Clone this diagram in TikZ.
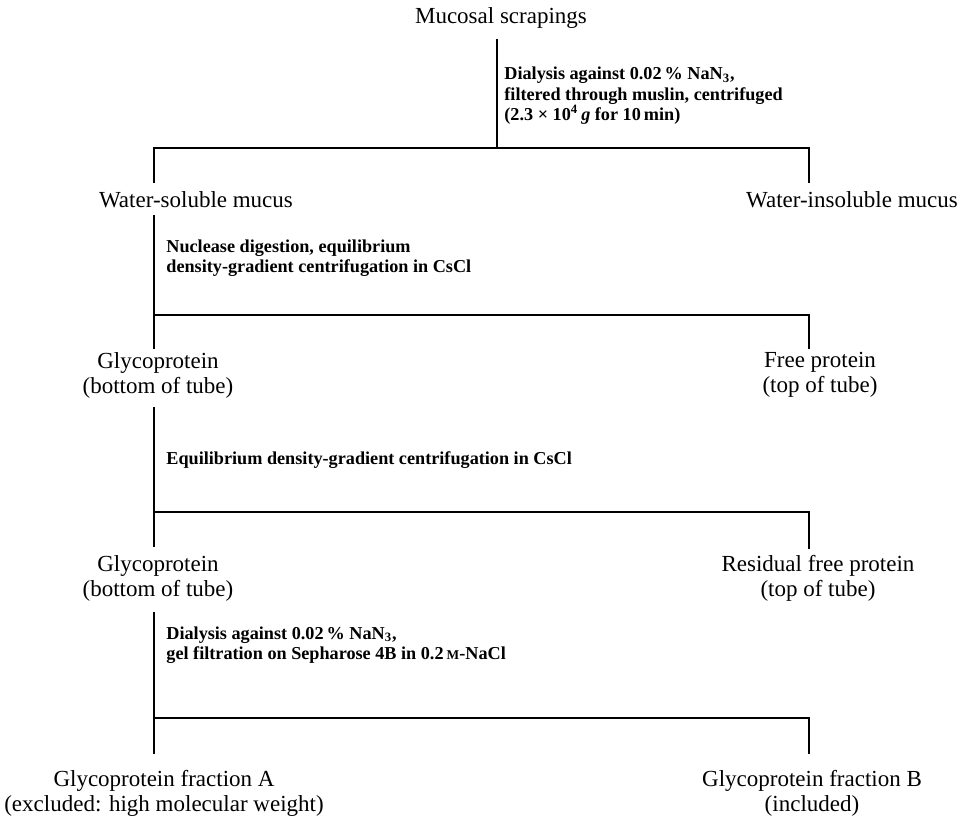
\documentclass[tikz,border=0pt]{standalone}
\usepackage{fontspec}
\setmainfont{Liberation Serif}
\usetikzlibrary{positioning}
\tikzstyle{fraction}=[align=center, inner sep=0pt, font=\fontsize{11.5}{12.5}\selectfont]
\tikzstyle{treatment}=[anchor=west, align=left, inner sep=0pt, font=\bfseries\fontsize{9.1}{10.2}\selectfont]
\tikzstyle{branch}=[line width=0.9pt]

\begin{document}
\begin{tikzpicture}[x=0.5pt,y=-0.5pt]
	\useasboundingbox (0,0) rectangle (971,820);
	% starting material
	\node[fraction] (scrap) at (501,18) {Mucosal scrapings};
	\coordinate (s0) at (497,39);
	\coordinate (s1) at (497,148);
	\coordinate (l1) at (154,148);
	\coordinate (r1) at (809,148);
	\draw[branch] (s0) -- (s1);
	\draw[branch] (l1 |- 0,183) -- (l1) -- (r1) -- (r1 |- 0,183);
	\node[treatment] (dial) at (504,96) {Dialysis against 0.02\,\% NaN\textsubscript{3},\\filtered through muslin, centrifuged\\(2.3 × 10\textsuperscript{4}\,\textit{g} for 10\,min)};
	\node[fraction] (wsol) at (196,200) {Water-soluble mucus};
	\node[fraction] (wins) at (852,200) {Water-insoluble mucus};
	% nuclease step
	\coordinate (w0) at (154,215);
	\coordinate (l2) at (154,315);
	\coordinate (r2) at (809,315);
	\draw[branch] (w0) -- (154,349);
	\draw[branch] (l2) -- (r2) -- (809,349);
	\node[treatment] (nucl) at (166,258) {Nuclease digestion, equilibrium\\density-gradient centrifugation in CsCl};
	\node[fraction] (gly1) at (158,375) {Glycoprotein\\(bottom of tube)};
	\node[fraction] (free) at (820,375) {Free protein\\(top of tube)};
	% second CsCl run
	\coordinate (g0) at (154,407);
	\coordinate (l3) at (154,512);
	\coordinate (r3) at (809,512);
	\draw[branch] (g0) -- (154,547);
	\draw[branch] (l3) -- (r3) -- (809,549);
	\node[treatment] (cscl) at (166,460) {Equilibrium density-gradient centrifugation in CsCl};
	\node[fraction] (gly2) at (158,578) {Glycoprotein\\(bottom of tube)};
	\node[fraction] (resid) at (818,578) {Residual free protein\\(top of tube)};
	% gel filtration
	\coordinate (h0) at (154,612);
	\coordinate (l4) at (154,718);
	\coordinate (r4) at (809,718);
	\draw[branch] (h0) -- (154,754);
	\draw[branch] (l4) -- (r4) -- (809,754);
	\node[treatment] (gelf) at (166,645) {Dialysis against 0.02\,\% NaN\textsubscript{3},\\gel filtration on Sepharose 4B in 0.2\,{\fontsize{6.7}{7}\selectfont M}-NaCl};
	\node[fraction] (fracA) at (164,793) {Glycoprotein fraction A\\(excluded: high molecular weight)};
	\node[fraction] (fracB) at (812,793) {Glycoprotein fraction B\\(included)};
\end{tikzpicture}
\end{document}
